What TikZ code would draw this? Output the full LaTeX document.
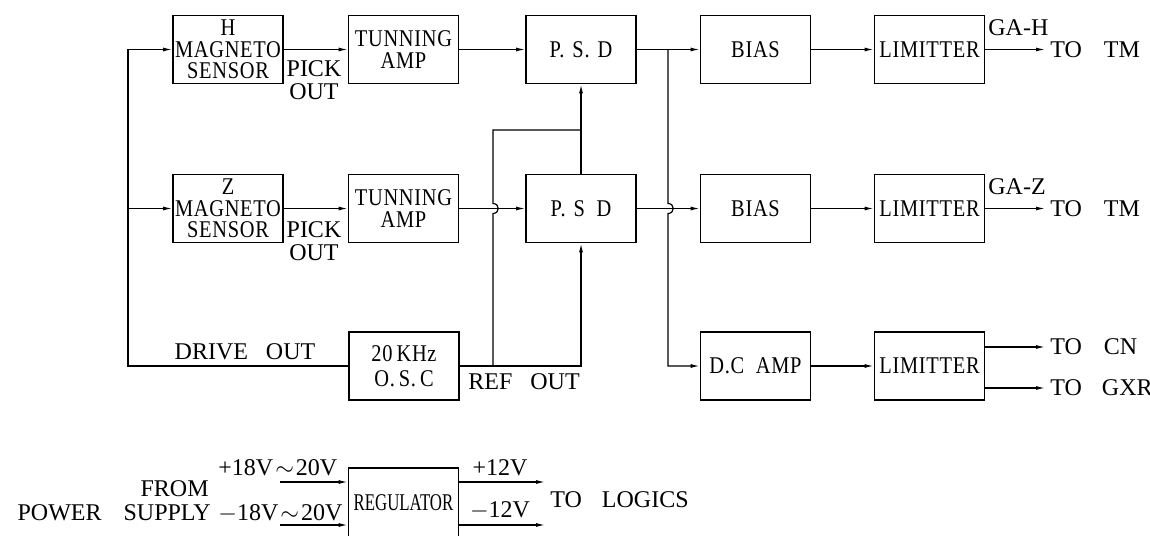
\documentclass[tikz,border=0pt]{standalone}
\usepackage{fontspec}
\setmainfont{Liberation Serif}
\newfontfamily\boxfont{Liberation Serif}[FakeStretch=0.85,LetterSpace=3]
\newfontfamily\condfont{Liberation Serif}[FakeStretch=0.7]
\usetikzlibrary{arrows.meta}
\begin{document}
\begin{tikzpicture}[x=0.5pt,y=-0.5pt,
  blk/.style={draw,line width=0.9pt,minimum width=55pt,minimum height=34pt,inner sep=0pt,align=center,font=\boxfont\fontsize{12}{10.8}\selectfont},
  lbl/.style={inner sep=0pt,align=center,font=\fontsize{12}{11.5}\selectfont},
  wire/.style={line width=0.6pt},
  arr/.style={wire,-{Latex[length=4.5pt,width=2pt]}}]
\useasboundingbox (0,0) rectangle (1150,535);
% row H
\node[blk] (hs) at (228,49.5) {H\\MAGNETO\\SENSOR};
\node[blk] (ht) at (403.5,49.5) {TUNNING\\AMP};
\node[blk] (hp) at (581,49.5) {P.\,\,S.\,\,D};
\node[blk] (hb) at (755.5,49.5) {BIAS};
\node[blk] (hl) at (929.5,49.5) {LIMITTER};
% row Z
\node[blk] (zs) at (228,208.5) {Z\\MAGNETO\\SENSOR};
\node[blk] (zt) at (403.5,208.5) {TUNNING\\AMP};
\node[blk] (zp) at (581,208.5) {P.\,\,S\ \ D};
\node[blk] (zb) at (755.5,208.5) {BIAS};
\node[blk] (zl) at (929.5,208.5) {LIMITTER};
% row 3
\node[blk,font=\boxfont\fontsize{12}{12.5}\selectfont] (osc) at (404,366) {20\,KHz\\O.\,S.\,C};
\node[blk] (dc) at (755.5,366) {D.C\ \ AMP};
\node[blk] (bl) at (929.5,366) {LIMITTER};
% regulator
\node[blk,minimum height=35pt,font=\condfont\fontsize{12}{12}\selectfont] (reg) at (403.5,503) {REGULATOR};

% coordinates
\coordinate (busT) at (128,49.5);
\coordinate (busZ) at (128,208.5);
\coordinate (busB) at (128,366);
\coordinate (refR) at (581,366);
\coordinate (refL) at (493,366);
\coordinate (refU) at (493,130);
\coordinate (j1) at (581,130);
\coordinate (brT) at (668,49.5);
\coordinate (brB) at (668,366);
\coordinate (oH) at (1045,49.5);
\coordinate (oZ) at (1045,208.5);
\coordinate (bo1s) at (984,347);
\coordinate (bo1) at (1045,347);
\coordinate (bo2s) at (984,388);
\coordinate (bo2) at (1045,388);
\coordinate (in1) at (280,482);
\coordinate (in2) at (280,525);
\coordinate (out1) at (545,482);
\coordinate (out2) at (545,525);

% drive bus
\draw[arr] (osc.west) -- (busB) -- (busT) -- (hs.west);
\draw[arr] (busZ) -- (zs.west);
% signal chains
\draw[arr] (hs.east) -- (ht.west);
\draw[arr] (ht.east) -- (hp.west);
\draw[arr] (hp.east) -- (hb.west);
\draw[arr] (hb.east) -- (hl.west);
\draw[arr] (hl.east) -- (oH);
\draw[arr] (zs.east) -- (zt.west);
\draw[arr] (zt.east) -- (zp.west);
\draw[arr] (zp.east) -- (zb.west);
\draw[arr] (zb.east) -- (zl.west);
\draw[arr] (zl.east) -- (oZ);
% reference
\draw[arr] (osc.east) -- (refR) -- (zp.south);
\draw[wire] (refL) -- (493,213.5) .. controls (500,213.5) and (500,203.5) .. (493,203.5) -- (refU) -- (j1);
\draw[wire] (zp.north) -- (j1);
\draw[arr] (j1) -- (hp.south);
% branch to DC amp
\draw[arr] (brT) -- (668,203.5) .. controls (675,203.5) and (675,213.5) .. (668,213.5) -- (brB) -- (dc.west);
\draw[arr] (dc.east) -- (bl.west);
\draw[arr] (bo1s) -- (bo1);
\draw[arr] (bo2s) -- (bo2);
% regulator
\draw[arr] (in1) -- (in1 -| reg.west);
\draw[arr] (in2) -- (in2 -| reg.west);
\draw[arr] (reg.east |- out1) -- (out1);
\draw[arr] (reg.east |- out2) -- (out2);

% labels
\node[lbl] (pk1) at (314,80) {PICK\\OUT};
\node[lbl] (pk2) at (314,241) {PICK\\OUT};
\node[lbl] (drv) at (245,352) {DRIVE\hspace{9pt}OUT};
\node[lbl] (ref) at (524,382) {REF\hspace{9pt}OUT};
\node[lbl,anchor=west] (gah) at (988,28) {GA-H};
\node[lbl,anchor=west] (gaz) at (988,187) {GA-Z};
\node[lbl,anchor=west] (tm1) at (1050,50) {TO\hspace{11pt}TM};
\node[lbl,anchor=west] (tm2) at (1050,209) {TO\hspace{11pt}TM};
\node[lbl,anchor=west] (cn) at (1050,347) {TO\hspace{11pt}CN};
\node[lbl,anchor=west] (gxr) at (1050,388) {TO\hspace{10pt}GXR};
\node[lbl,anchor=base west] (p18) at (218,475) {+18V\hspace{1pt}$\sim$\hspace{1pt}20V};
\node[lbl,anchor=base west] (m18) at (218,520) {$-$18V\hspace{1pt}$\sim$\hspace{1pt}20V};
\node[lbl,anchor=base east] (from) at (209,496) {FROM};
\node[lbl,anchor=base east] (ps) at (211,520) {POWER\hspace{11pt}SUPPLY};
\node[lbl,anchor=base] (p12) at (500,475) {+12V};
\node[lbl,anchor=base] (m12) at (500,517) {$-$12V};
\node[lbl,anchor=west] (logic) at (550,500) {TO\hspace{10pt}LOGICS};
\end{tikzpicture}
\end{document}
